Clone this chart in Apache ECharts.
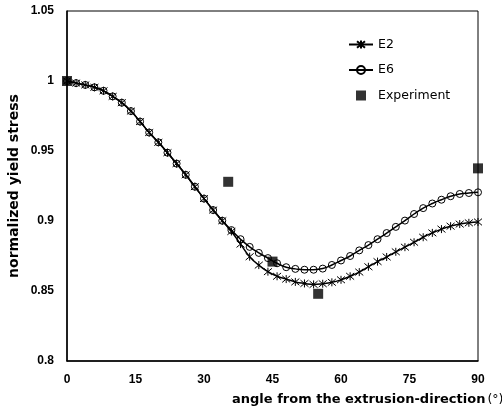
<!DOCTYPE html>
<html>
<head>
<meta charset="utf-8" />
<script src="https://cdn.jsdelivr.net/npm/echarts@6/dist/echarts.min.js"></script>
<style>
  html,
  body {
    margin: 0;
    padding: 0;
    background: #fff;
  }
  #chart {
    width: 502px;
    height: 418px;
  }
</style>
</head>
<body>
<div id="chart"></div>
<script>
// 角度 (deg)
const angles = [
  0, 2, 4, 6, 8, 10, 12, 14, 16, 18, 20, 22, 24, 26, 28, 30, 32, 34, 36, 38, 40, 42, 44,
  46, 48, 50, 52, 54, 56, 58, 60, 62, 64, 66, 68, 70, 72, 74, 76, 78, 80, 82, 84, 86, 88, 90,
];
const e2Values = [
  1.0, 0.9985, 0.9972, 0.9955, 0.993, 0.989, 0.9845, 0.9785, 0.971, 0.9632, 0.9562,
  0.9488, 0.941, 0.933, 0.9245, 0.916, 0.9078, 0.9002, 0.8925, 0.8835, 0.8745, 0.8685,
  0.8638, 0.8605, 0.8585, 0.8565, 0.8554, 0.8547, 0.8552, 0.8562, 0.858, 0.8605, 0.8635,
  0.8673, 0.871, 0.8743, 0.878, 0.8813, 0.8848, 0.8884, 0.8915, 0.8942, 0.8963, 0.8978,
  0.8987, 0.8993,
];
const e6Values = [
  1.0, 0.9985, 0.9972, 0.9955, 0.993, 0.989, 0.9845, 0.9785, 0.971, 0.9632, 0.9562,
  0.9488, 0.941, 0.933, 0.9245, 0.916, 0.9078, 0.9002, 0.8935, 0.887, 0.8815, 0.8772,
  0.8735, 0.8698, 0.867, 0.8658, 0.8652, 0.8652, 0.866, 0.8686, 0.8718, 0.875, 0.879,
  0.8828, 0.887, 0.8914, 0.8958, 0.9003, 0.905, 0.9092, 0.9125, 0.9152, 0.9177, 0.9193,
  0.92, 0.9205,
];
// 实验点
const expAngles = [0, 35.3, 45, 55, 90];
const expValues = [1.0, 0.928, 0.871, 0.848, 0.9376];

const labelFont = "'Liberation Sans', Arial, sans-serif";
const titleFont = "'DejaVu Sans', Verdana, sans-serif";

// asterisk marker (stroked)
const starSymbol = "path://M0,0 L10,10 M0,10 L10,0 M5,-1 L5,11";
// small square in the legend, the empty sub-paths just widen the box
const squareIcon = "path://M7,0 L17,0 L17,10 L7,10 Z M0,5 L0,5 M24,5 L24,5";

const zip = (xs, ys) => xs.map((x, i) => [x, ys[i]]);

const option = {
  animation: false,
  backgroundColor: "#fff",
  grid: {
    show: true,
    left: 67,
    right: 24,
    top: 11,
    bottom: 57,
    borderColor: "#000",
    borderWidth: 1,
  },
  legend: {
    orient: "vertical",
    left: 343,
    top: 33,
    itemWidth: 24,
    itemHeight: 10,
    itemGap: 12.5,
    textStyle: {
      color: "#000",
      fontFamily: titleFont,
      fontSize: 12.5,
    },
    data: ["E2", "E6", { name: "Experiment", icon: squareIcon }],
  },
  xAxis: {
    type: "value",
    min: 0,
    max: 90,
    interval: 15,
    axisLine: { show: true, lineStyle: { color: "#000", width: 1.5 } },
    axisTick: { show: false },
    splitLine: { show: false },
    axisLabel: {
      margin: 13,
      color: "#000",
      fontWeight: "bold",
      fontFamily: labelFont,
      fontSize: 12,
    },
  },
  yAxis: {
    type: "value",
    min: 0.8,
    max: 1.05,
    interval: 0.05,
    axisLine: { show: true, lineStyle: { color: "#000", width: 1.5 } },
    axisTick: { show: false },
    splitLine: { show: false },
    axisLabel: {
      margin: 13,
      color: "#000",
      fontWeight: "bold",
      fontFamily: labelFont,
      fontSize: 12,
      formatter: (v) => String(parseFloat(v.toFixed(2))),
    },
  },
  graphic: [
    {
      type: "text",
      x: 232,
      y: 400,
      style: {
        text: "{b|angle from the extrusion-direction}{n|(°)}",
        verticalAlign: "middle",
        rich: {
          b: { fontFamily: titleFont, fontWeight: "bold", fontSize: 13, fill: "#000" },
          n: { fontFamily: titleFont, fontSize: 12.5, fill: "#000", padding: [0, 0, 0, 2] },
        },
      },
    },
    {
      type: "text",
      x: 14,
      y: 186,
      rotation: Math.PI / 2,
      style: {
        text: "normalized yield stress",
        fontFamily: titleFont,
        fontWeight: "bold",
        fontSize: 14,
        fill: "#000",
        align: "center",
        verticalAlign: "middle",
      },
    },
  ],
  series: [
    {
      name: "E2",
      type: "line",
      data: zip(angles, e2Values),
      smooth: true,
      symbol: starSymbol,
      symbolSize: 8,
      lineStyle: { color: "#000", width: 1.5 },
      itemStyle: { color: "#000", borderColor: "#000", borderWidth: 1 },
    },
    {
      name: "E6",
      type: "line",
      data: zip(angles, e6Values),
      smooth: true,
      symbol: "circle",
      symbolSize: 7,
      lineStyle: { color: "#000", width: 1.5 },
      itemStyle: { color: "none", borderColor: "#000", borderWidth: 1 },
    },
    {
      name: "Experiment",
      type: "scatter",
      data: zip(expAngles, expValues),
      symbol: "rect",
      symbolSize: 10,
      itemStyle: { color: "#000" },
      z: 5,
    },
  ],
};

const myChart = echarts.init(document.getElementById("chart"));
myChart.setOption(option);
</script>
</body>
</html>
